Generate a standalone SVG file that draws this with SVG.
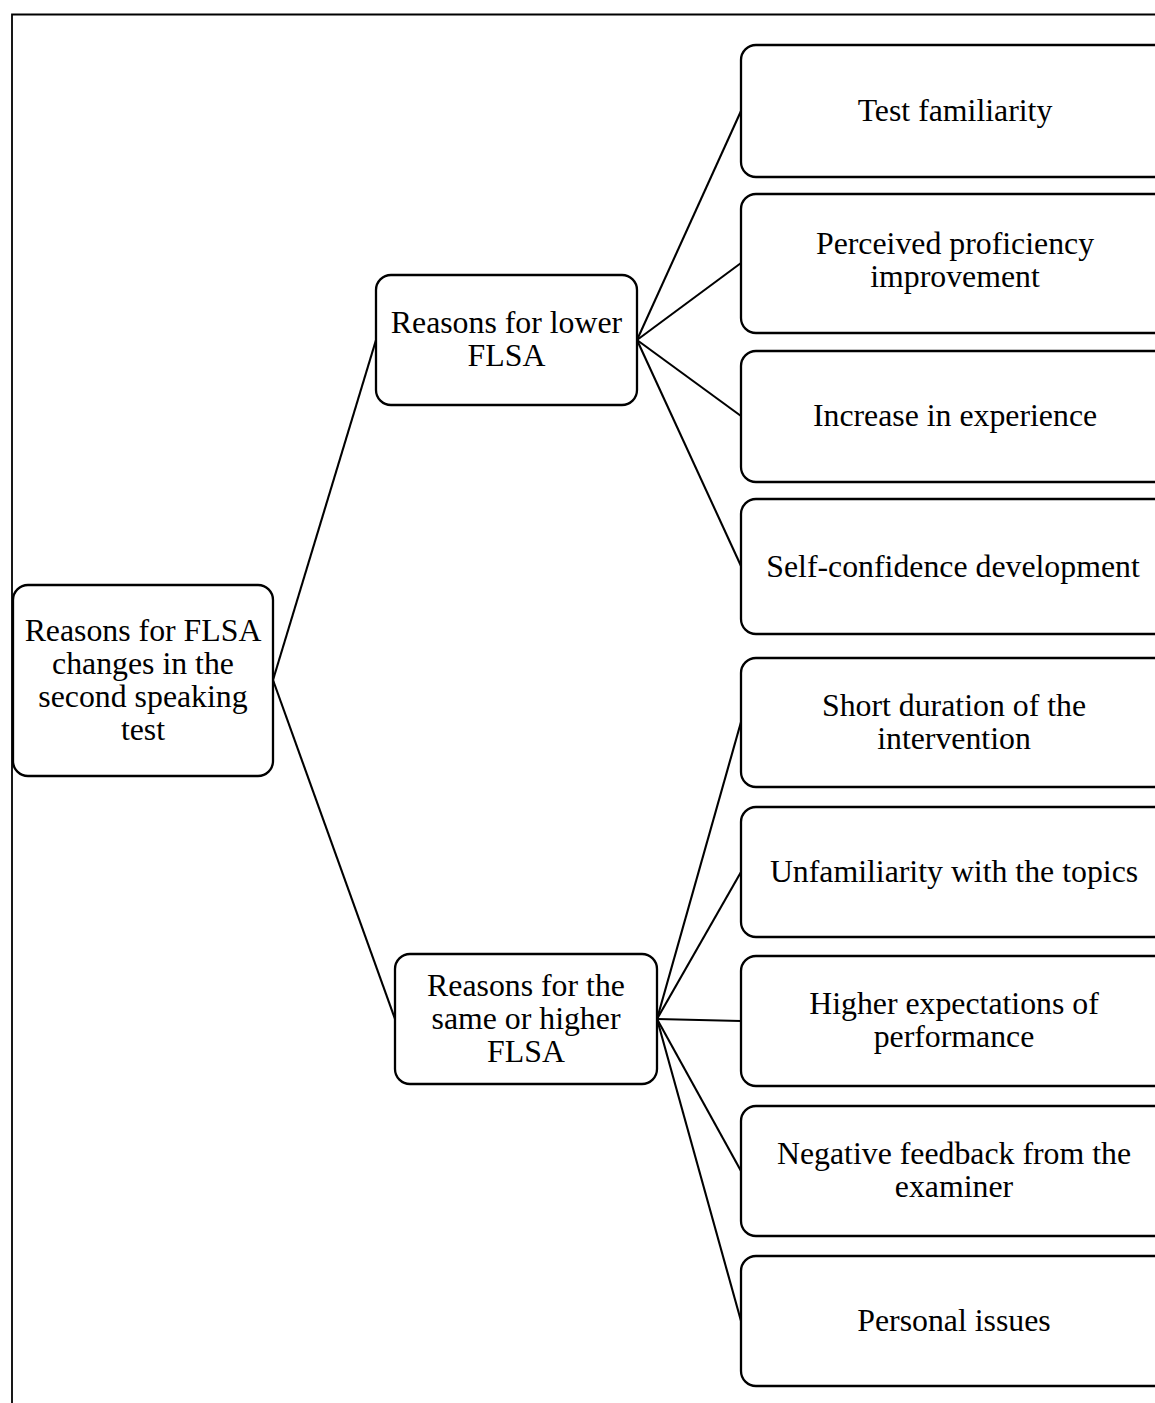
<svg xmlns="http://www.w3.org/2000/svg" width="1155" height="1403" viewBox="0 0 1155 1403">
<style>
.box{fill:#fff;stroke:#000;stroke-width:2.3}
.t{font-family:"Liberation Serif","Times New Roman",serif;font-size:31.8px;fill:#000;text-anchor:middle}
.c{stroke:#000;stroke-width:2.1;fill:none}
.frame{stroke:#000;stroke-width:1.8;fill:none}
</style>
<rect width="1155" height="1403" fill="#fff"/>
<path class="frame" d="M12,1403 V14.5 H1155"/>
<g id="connectors">
<line class="c" x1="273" y1="680" x2="376" y2="340"/>
<line class="c" x1="273" y1="680" x2="395" y2="1019"/>
<line class="c" x1="637" y1="340" x2="741" y2="111"/>
<line class="c" x1="637" y1="340" x2="741" y2="263"/>
<line class="c" x1="637" y1="340" x2="741" y2="416"/>
<line class="c" x1="637" y1="340" x2="741" y2="566"/>
<line class="c" x1="657" y1="1019" x2="741" y2="722"/>
<line class="c" x1="657" y1="1019" x2="741" y2="872"/>
<line class="c" x1="657" y1="1019" x2="741" y2="1021"/>
<line class="c" x1="657" y1="1019" x2="741" y2="1171"/>
<line class="c" x1="657" y1="1019" x2="741" y2="1321"/>
</g>
<g id="root">
<rect class="box" x="13" y="585" width="260" height="191" rx="15"/>
<text class="t" x="143" y="641">Reasons for FLSA</text>
<text class="t" x="143" y="674">changes in the</text>
<text class="t" x="143" y="707">second speaking</text>
<text class="t" x="143" y="740">test</text>
</g>
<g id="lower">
<rect class="box" x="376" y="275" width="261" height="130" rx="15"/>
<text class="t" x="506.5" y="333">Reasons for lower</text>
<text class="t" x="506.5" y="366">FLSA</text>
</g>
<g id="higher">
<rect class="box" x="395" y="954" width="262" height="130" rx="15"/>
<text class="t" x="526" y="996">Reasons for the</text>
<text class="t" x="526" y="1029">same or higher</text>
<text class="t" x="526" y="1062">FLSA</text>
</g>
<g id="n1">
<rect class="box" x="741" y="45" width="430" height="132" rx="15"/>
<text class="t" x="955" y="121">Test familiarity</text>
</g>
<g id="n2">
<rect class="box" x="741" y="194" width="430" height="139" rx="15"/>
<text class="t" x="955" y="254">Perceived proficiency</text>
<text class="t" x="955" y="287">improvement</text>
</g>
<g id="n3">
<rect class="box" x="741" y="351" width="430" height="131" rx="15"/>
<text class="t" x="955" y="426">Increase in experience</text>
</g>
<g id="n4">
<rect class="box" x="741" y="499" width="430" height="135" rx="15"/>
<text class="t" x="953" y="577">Self-confidence development</text>
</g>
<g id="n5">
<rect class="box" x="741" y="658" width="430" height="129" rx="15"/>
<text class="t" x="954" y="716">Short duration of the</text>
<text class="t" x="954" y="749">intervention</text>
</g>
<g id="n6">
<rect class="box" x="741" y="807" width="430" height="130" rx="15"/>
<text class="t" x="954" y="882">Unfamiliarity with the topics</text>
</g>
<g id="n7">
<rect class="box" x="741" y="956" width="430" height="130" rx="15"/>
<text class="t" x="954" y="1014">Higher expectations of</text>
<text class="t" x="954" y="1047">performance</text>
</g>
<g id="n8">
<rect class="box" x="741" y="1106" width="430" height="130" rx="15"/>
<text class="t" x="954" y="1164">Negative feedback from the</text>
<text class="t" x="954" y="1197">examiner</text>
</g>
<g id="n9">
<rect class="box" x="741" y="1256" width="430" height="130" rx="15"/>
<text class="t" x="954" y="1331">Personal issues</text>
</g>
</svg>
